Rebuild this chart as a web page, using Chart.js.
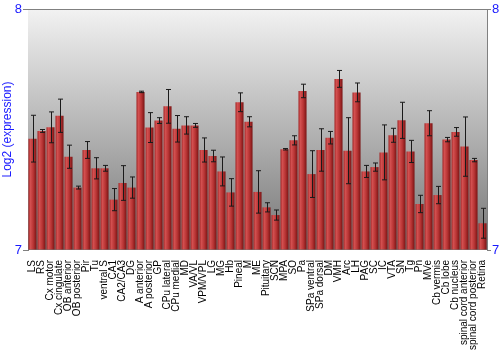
<!DOCTYPE html>
<html>
<head>
<meta charset="utf-8">
<script src="https://cdn.jsdelivr.net/npm/chart.js@4/dist/chart.umd.min.js"></script>
<style>
  html, body { margin: 0; padding: 0; background: #fff; }
  #wrap { width: 500px; height: 350px; }
</style>
</head>
<body>
<div id="wrap"><canvas id="barChart"></canvas></div>
<script>
var regiones = ["LS","RS","Cx motor","Cx cingulate","OB anterior","OB posterior","Pir","Tu","ventral S","CA1",
  "CA2/CA3","DG","A anterior","A posterior","GP","CPu lateral","CPu medial","MD","VA/VL","VPM/VPL",
  "LG","MG","Hb","Pineal","M","ME","Pituitary","SCN","MPA","SO",
  "Pa","SPa ventral","SPa dorsal","DM","VMH","Arc","LH","PAG","SC","IC",
  "VTA","SN","Tg","Pn","MVe","Cb vermis","Cb lobe","Cb nucleus","spinal cord anterior","spinal cord posterior",
  "Retina"]
var expresion = [7.462,7.494,7.509,7.557,7.387,7.259,7.415,7.339,7.339,7.209,
  7.278,7.259,7.656,7.508,7.537,7.596,7.503,7.517,7.517,7.415,
  7.390,7.326,7.239,7.613,7.532,7.241,7.177,7.145,7.418,7.455,
  7.660,7.315,7.415,7.466,7.710,7.412,7.654,7.326,7.344,7.405,
  7.476,7.538,7.409,7.191,7.526,7.228,7.458,7.490,7.429,7.373,
  7.111]
var error = [0.097,0.006,0.064,0.069,0.048,0.006,0.035,0.044,0.012,0.046,
  0.072,0.044,0.003,0.062,0.012,0.070,0.055,0.036,0.008,0.050,
  0.024,0.060,0.057,0.039,0.021,0.088,0.019,0.021,0.003,0.019,
  0.028,0.097,0.088,0.026,0.035,0.137,0.039,0.025,0.017,0.114,
  0.029,0.075,0.046,0.036,0.052,0.036,0.009,0.018,0.123,0.007,
  0.062]
var ticksY = [7, 8]

var azul = '#1a1aff'

// fondo degradado gris + marco
var fondo = {
  id: 'fondo',
  beforeDatasetsDraw: function(chart){
    var a = chart.chartArea, c = chart.ctx
    var g = c.createLinearGradient(0, a.top, 0, a.bottom)
    g.addColorStop(0, '#f2f2f2')
    g.addColorStop(0.5, '#b4b4b4')
    g.addColorStop(1, '#767676')
    c.save()
    c.fillStyle = g
    c.fillRect(a.left, a.top, a.right - a.left, a.bottom - a.top)
    c.strokeStyle = '#808080'
    c.lineWidth = 1
    c.beginPath()
    c.moveTo(a.left, a.top + 0.5)
    c.lineTo(a.right, a.top + 0.5)
    c.stroke()
    c.restore()
  }
}

// barras de error
var barrasError = {
  id: 'barrasError',
  afterDatasetsDraw: function(chart){
    var meta = chart.getDatasetMeta(0), y = chart.scales.y, c = chart.ctx
    c.save()
    c.strokeStyle = '#1a1a1a'
    c.lineWidth = 1
    meta.data.forEach(function(bar, i){
      var x = Math.round(bar.x) + 0.5
      var y1 = y.getPixelForValue(expresion[i] + error[i])
      var y2 = y.getPixelForValue(expresion[i] - error[i])
      c.beginPath()
      c.moveTo(x, y1); c.lineTo(x, y2)
      c.moveTo(x - 2.5, y1); c.lineTo(x + 2.5, y1)
      c.moveTo(x - 2.5, y2); c.lineTo(x + 2.5, y2)
      c.stroke()
    })
    c.restore()
  }
}

function colorBarra(ctx){
  var chart = ctx.chart
  if (!chart.chartArea) return '#b03030'
  var x = chart.scales.x.getPixelForValue(ctx.dataIndex)
  var g = chart.ctx.createLinearGradient(x - 4, 0, x + 4, 0)
  g.addColorStop(0, '#a52a2a')
  g.addColorStop(0.25, '#d24f4f')
  g.addColorStop(0.6, '#b83434')
  g.addColorStop(1, '#7a1414')
  return g
}

new Chart(document.getElementById('barChart').getContext('2d'), {
  type: 'bar',
  data: {
    labels: regiones,
    datasets: [{
      data: expresion,
      backgroundColor: colorBarra,
      borderWidth: 0,
      barPercentage: 0.9,
      categoryPercentage: 1,
      base: 7
    }]
  },
  options: {
    responsive: true,
    maintainAspectRatio: false,
    animation: false,
    layout: { padding: { top: 9, right: 0, left: 0, bottom: 0 } },
    plugins: { legend: { display: false }, tooltip: { enabled: false } },
    scales: {
      x: {
        grid: { display: false },
        border: { display: false },
        ticks: {
          autoSkip: false, maxRotation: 90, minRotation: 90, padding: 2,
          color: '#000', font: { family: 'Liberation Sans', size: 10 }
        },
        afterFit: function(s){ s.height = 100 }
      },
      y: {
        min: 7, max: 8,
        afterBuildTicks: function(s){ s.ticks = ticksY.map(function(v){ return { value: v } }) },
        grid: { drawOnChartArea: false, drawTicks: true, tickLength: 5, color: '#808080' },
        border: { display: true, color: '#808080' },
        ticks: { color: azul, padding: 1, font: { family: 'Liberation Sans', size: 13 } },
        title: { display: true, text: 'Log2 (expression)', color: azul, padding: 0,
          font: { family: 'Liberation Sans', size: 12 } },
        afterFit: function(s){ s.width = 28 }
      },
      y2: {
        position: 'right',
        min: 7, max: 8,
        afterBuildTicks: function(s){ s.ticks = ticksY.map(function(v){ return { value: v } }) },
        grid: { drawOnChartArea: false, drawTicks: true, tickLength: 4, color: '#808080' },
        border: { display: true, color: '#808080' },
        ticks: { color: azul, padding: 1, font: { family: 'Liberation Sans', size: 13 } },
        afterFit: function(s){ s.width = 13 }
      }
    }
  },
  plugins: [fondo, barrasError]
})
</script>
</body>
</html>
